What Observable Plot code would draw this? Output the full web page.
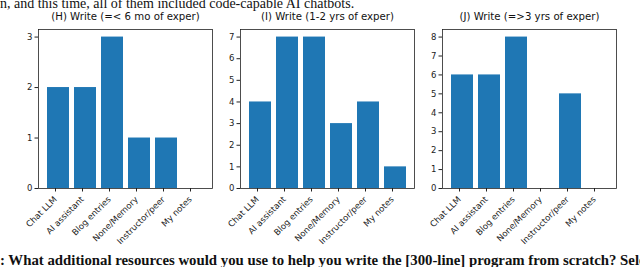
<!DOCTYPE html>
<html>
<head>
<meta charset="utf-8">
<script src="https://cdn.jsdelivr.net/npm/d3@7"></script>
<script src="https://cdn.jsdelivr.net/npm/@observablehq/plot@0.6"></script>
<style>
  html, body { margin: 0; padding: 0; background: white; }
  #wrap { position: relative; width: 640px; height: 267px; overflow: hidden; background: white; }
  #wrap svg { position: absolute; left: 0; top: 0; }
  .toptext { position: absolute; left: 0; top: -4px; font-family: "Liberation Serif", serif; font-size: 14px; white-space: nowrap; color: #111; line-height: 16px; }
  .bottext { position: absolute; left: 0; top: 252px; font-family: "Liberation Serif", serif; font-size: 14.8px; font-weight: bold; white-space: nowrap; color: #111; line-height: 17px; }
</style>
</head>
<body>
<div id="wrap">
  <div class="toptext">n, and this time, all of them included code-capable AI chatbots.</div>
  <div class="bottext">: What additional resources would you use to help you write the [300-line] program from scratch? Select all that apply.</div>
</div>
<script>
const categories = ["Chat LLM", "AI assistant", "Blog entries", "None/Memory", "Instructor/peer", "My notes"];
const titles = ["(H) Write (=< 6 mo of exper)", "(I) Write (1-2 yrs of exper)", "(J) Write (=>3 yrs of exper)"];
const valuesH = [2, 2, 3, 1, 1, 0];
const valuesI = [4, 7, 7, 3, 4, 1];
const valuesJ = [6, 6, 8, 0, 5, 0];
const ticksH = [0, 1, 2, 3];
const ticksI = [0, 1, 2, 3, 4, 5, 6, 7];
const ticksJ = [0, 1, 2, 3, 4, 5, 6, 7, 8];

const panels = [
  {title: titles[0], values: valuesH, ticks: ticksH, left: 38, right: 212},
  {title: titles[1], values: valuesI, ticks: ticksI, left: 240, right: 414},
  {title: titles[2], values: valuesJ, ticks: ticksJ, left: 442, right: 616}
];

const wrap = document.getElementById("wrap");
for (const p of panels) {
  const data = categories.map((c, i) => ({cat: c, v: p.values[i]}));
  const ymax = d3.max(p.ticks) * 1.05;
  const chart = Plot.plot({
    width: 640,
    height: 267,
    marginLeft: p.left,
    marginRight: 640 - p.right,
    marginTop: 29,
    marginBottom: 267 - 188,
    style: {fontFamily: "DejaVu Sans", fontSize: "8.5px", background: "transparent", color: "#222"},
    x: {domain: categories, paddingInner: 0.2, paddingOuter: 0.29, label: null},
    y: {domain: [0, ymax], label: null},
    marks: [
      Plot.barY(data, {x: "cat", y: "v", fill: "#1f77b4"}),
      Plot.frame({stroke: "#222", strokeWidth: 0.8}),
      Plot.axisY({ticks: p.ticks, tickSize: 3.5, tickPadding: 2.5, fontSize: 8.5, label: null, tickFormat: d3.format("d")}),
      Plot.axisX({tickSize: 3.5, tickPadding: 6, tickRotate: -45, fontSize: 8.5, dx: -3, label: null}),
      Plot.text([p.title], {frameAnchor: "top", dy: -10, lineAnchor: "bottom", fontSize: 10.2, fill: "#111"})
    ]
  });
  wrap.appendChild(chart);
}
</script>
</body>
</html>
